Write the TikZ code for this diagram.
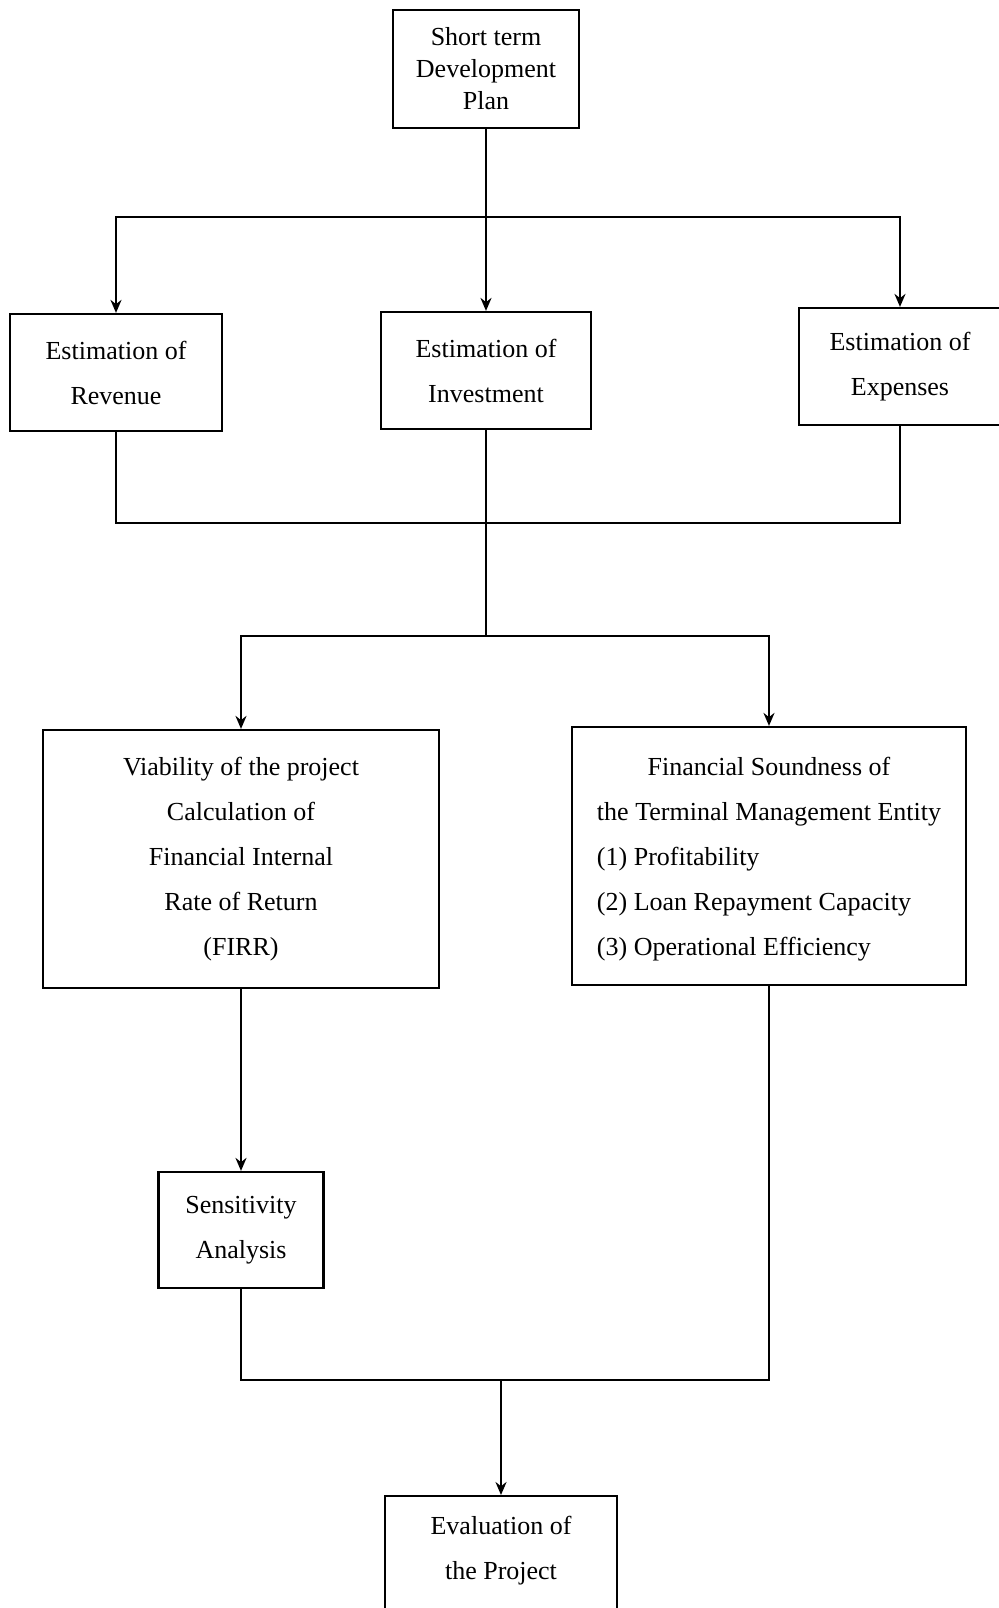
\documentclass[tikz,border=0pt]{standalone}
\usepackage{fontspec}
\setmainfont{Liberation Serif}
\usetikzlibrary{arrows.meta}
\begin{document}
\begin{tikzpicture}[>={Stealth[length=6.5pt,width=5.5pt]}, x=0.5pt, y=-0.5pt, line width=1.4pt,
  box/.style={draw, line width=1.1pt, align=center, inner sep=0pt, font=\fontsize{13}{22.5}\selectfont}]
\useasboundingbox (0,0) rectangle (998,1608);
\node[box, minimum width=93pt, minimum height=59pt, font=\fontsize{13}{16}\selectfont] (plan) at (486,69) {Short term\\Development\\Plan};
\node[box, minimum width=106pt, minimum height=58.5pt] (rev) at (116,372.5) {Estimation of\\Revenue};
\node[box, minimum width=105pt, minimum height=58.5pt] (inv) at (486,370.5) {Estimation of\\Investment};
\node[box, minimum width=101pt, minimum height=58.5pt] (exp) at (900,366.5) {Estimation of\\Expenses};
\node[box, minimum width=198pt, minimum height=129pt] (firr) at (241,859) {Viability of the project\\Calculation of\\Financial Internal\\Rate of Return\\(FIRR)};
\node[box, minimum width=197pt, minimum height=129pt] (sound) at (769,856) {\begin{tabular}{@{}l@{}}\multicolumn{1}{@{}c@{}}{Financial Soundness of}\\the Terminal Management Entity\\(1) Profitability\\(2) Loan Repayment Capacity\\(3) Operational Efficiency\end{tabular}};
\node[box, minimum width=82.5pt, minimum height=58pt] (sens) at (241,1230) {Sensitivity\\Analysis};
\node[box, minimum width=116pt, minimum height=75pt, anchor=north] (eval) at (501,1495) {};
\node[box, draw=none] (evaltxt) at (501,1551) {Evaluation of\\the Project};
\coordinate (j1) at (486,217);
\coordinate (j2) at (486,523);
\coordinate (j3) at (486,636);
\coordinate (j4) at (501,1380);
\draw (plan) -- (j1);
\draw[->] (j1) -- (inv);
\draw[->] (j1) -| (rev);
\draw[->] (j1) -| (exp);
\draw (rev) |- (j2) -| (exp);
\draw (inv) -- (j3);
\draw[->] (j3) -| (firr);
\draw[->] (j3) -| (sound);
\draw[->] (firr) -- (sens);
\draw (sens) |- (j4) -| (sound);
\draw[->] (j4) -- (eval);
\end{tikzpicture}
\end{document}
